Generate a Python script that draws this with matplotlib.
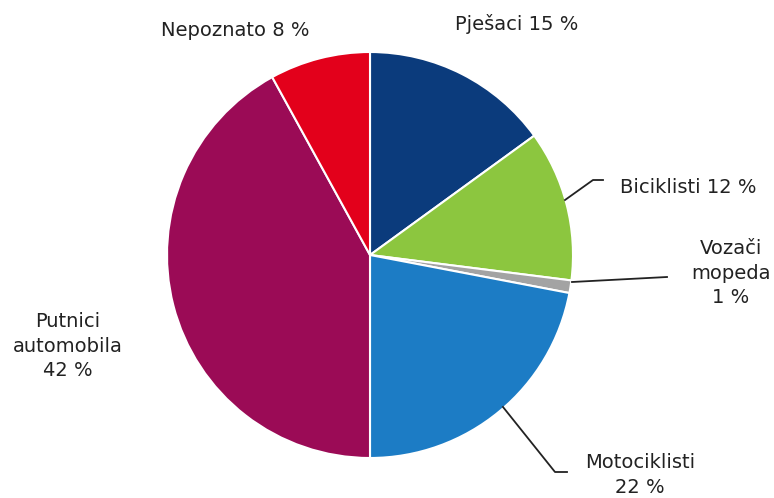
import matplotlib
matplotlib.use("Agg")
from matplotlib import pyplot as plt

# udio poginulih po kategoriji sudionika
kategorije = ["Pješaci", "Biciklisti", "Vozači mopeda", "Motociklisti", "Putnici automobila", "Nepoznato"]
udjeli = [15, 12, 1, 22, 42, 8]
boje = ["#0b3b7c", "#8cc63f", "#a3a3a3", "#1c7cc5", "#9b0b56", "#e3001b"]
oznake = ["Pješaci 15 %", "Biciklisti 12 %", "Vozači\nmopeda\n1 %", "Motociklisti\n22 %",
          "Putnici\nautomobila\n42 %", "Nepoznato 8 %"]

plt.rcParams['font.family'] = ['Liberation Sans Narrow', 'DejaVu Sans']

W, H = 774, 498
fig = plt.figure(figsize=(W / 100, H / 100), dpi=100)
ax = fig.add_axes([0, 0, 1, 1])
ax.set_xlim(0, W)
ax.set_ylim(H, 0)
ax.axis('off')

# pie u pikselnim koordinatama (y prema dolje -> counterclock=True daje smjer kazaljke)
ax.pie(udjeli, colors=boje, startangle=-90, counterclock=True, center=(370, 255), radius=203,
       wedgeprops=dict(edgecolor='white', linewidth=1.5), frame=True)
ax.set_xlim(0, W)
ax.set_ylim(H, 0)
ax.axis('off')

tekst = dict(fontsize=14, color='#222222', va='center', linespacing=1.35)
ax.text(235, 30, oznake[5], ha='center', **tekst)
ax.text(517, 24, oznake[0], ha='center', **tekst)
ax.text(620, 187, oznake[1], ha='left', **tekst)
ax.text(731, 273, oznake[2], ha='center', **tekst)
ax.text(640, 475, oznake[3], ha='center', **tekst)
ax.text(68, 346, oznake[4], ha='center', **tekst)

# linije do natpisa
lin = dict(color='#222222', linewidth=1.3)
ax.plot([565, 593, 603], [200, 180, 180], **lin)
ax.plot([572, 667], [282, 277], **lin)
ax.plot([503, 555, 567], [407, 472, 472], **lin)

plt.savefig('out.png', dpi=100)
